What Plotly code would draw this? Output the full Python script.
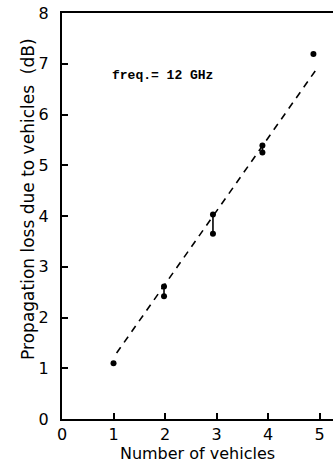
import plotly.graph_objects as go

# Measured data (number of vehicles, loss in dB)
single_x = [1.0, 4.88]
single_y = [1.10, 7.19]
pair_x = [1.98, 2.93, 3.89]
pair_hi = [2.61, 4.03, 5.39]
pair_lo = [2.42, 3.65, 5.25]
fit_x = [1.06, 4.93]
fit_y = [1.30, 6.88]
x_ticks = [0, 1, 2, 3, 4, 5]
y_ticks = [0, 1, 2, 3, 4, 5, 6, 7, 8]

fig = go.Figure()

# dashed fit line
fig.add_trace(go.Scatter(x=fit_x, y=fit_y, mode="lines",
                         line=dict(color="black", width=1.6, dash="7px,6px"),
                         hoverinfo="skip", showlegend=False))

# range pairs
px, py = [], []
for x, hi, lo in zip(pair_x, pair_hi, pair_lo):
    px += [x, x, None]
    py += [hi, lo, None]
fig.add_trace(go.Scatter(x=px, y=py, mode="lines+markers",
                         line=dict(color="black", width=1.6),
                         marker=dict(color="black", size=6),
                         showlegend=False))

fig.add_trace(go.Scatter(x=single_x, y=single_y, mode="markers",
                         marker=dict(color="black", size=6),
                         showlegend=False))

fig.add_annotation(x=0.93, y=6.76, xref="x", yref="y", text="<b>freq.= 12 GHz</b>",
                   showarrow=False, xanchor="left", yanchor="middle",
                   font=dict(family="Liberation Mono", size=13, color="black"))

fig.add_annotation(x=-0.125, y=0.54, xref="paper", yref="paper",
                   text="Propagation loss due to vehicles  (dB)",
                   textangle=-90, showarrow=False, xanchor="center", yanchor="middle",
                   font=dict(family="DejaVu Sans", size=17, color="black"))

fig.update_layout(
    width=333, height=464,
    margin=dict(l=62, r=0, t=13, b=45),
    paper_bgcolor="white", plot_bgcolor="white",
    font=dict(family="DejaVu Sans", size=16, color="black"),
    xaxis=dict(range=[0, 5.26], tickvals=x_ticks, ticks="inside", ticklen=6,
               tickwidth=1.5, tickcolor="black", showline=True, linecolor="black",
               linewidth=2, mirror=True, showgrid=False, zeroline=False,
               title=dict(text="Number of vehicles", font=dict(size=16), standoff=2),
               tickfont=dict(size=16)),
    yaxis=dict(range=[0, 8], tickvals=y_ticks, ticks="inside", ticklen=6,
               tickwidth=1.5, tickcolor="black", showline=True, linecolor="black",
               linewidth=2, showgrid=False, zeroline=False, ticklabelstandoff=8,
               tickfont=dict(size=16)),
)

fig.write_html("out.html")
